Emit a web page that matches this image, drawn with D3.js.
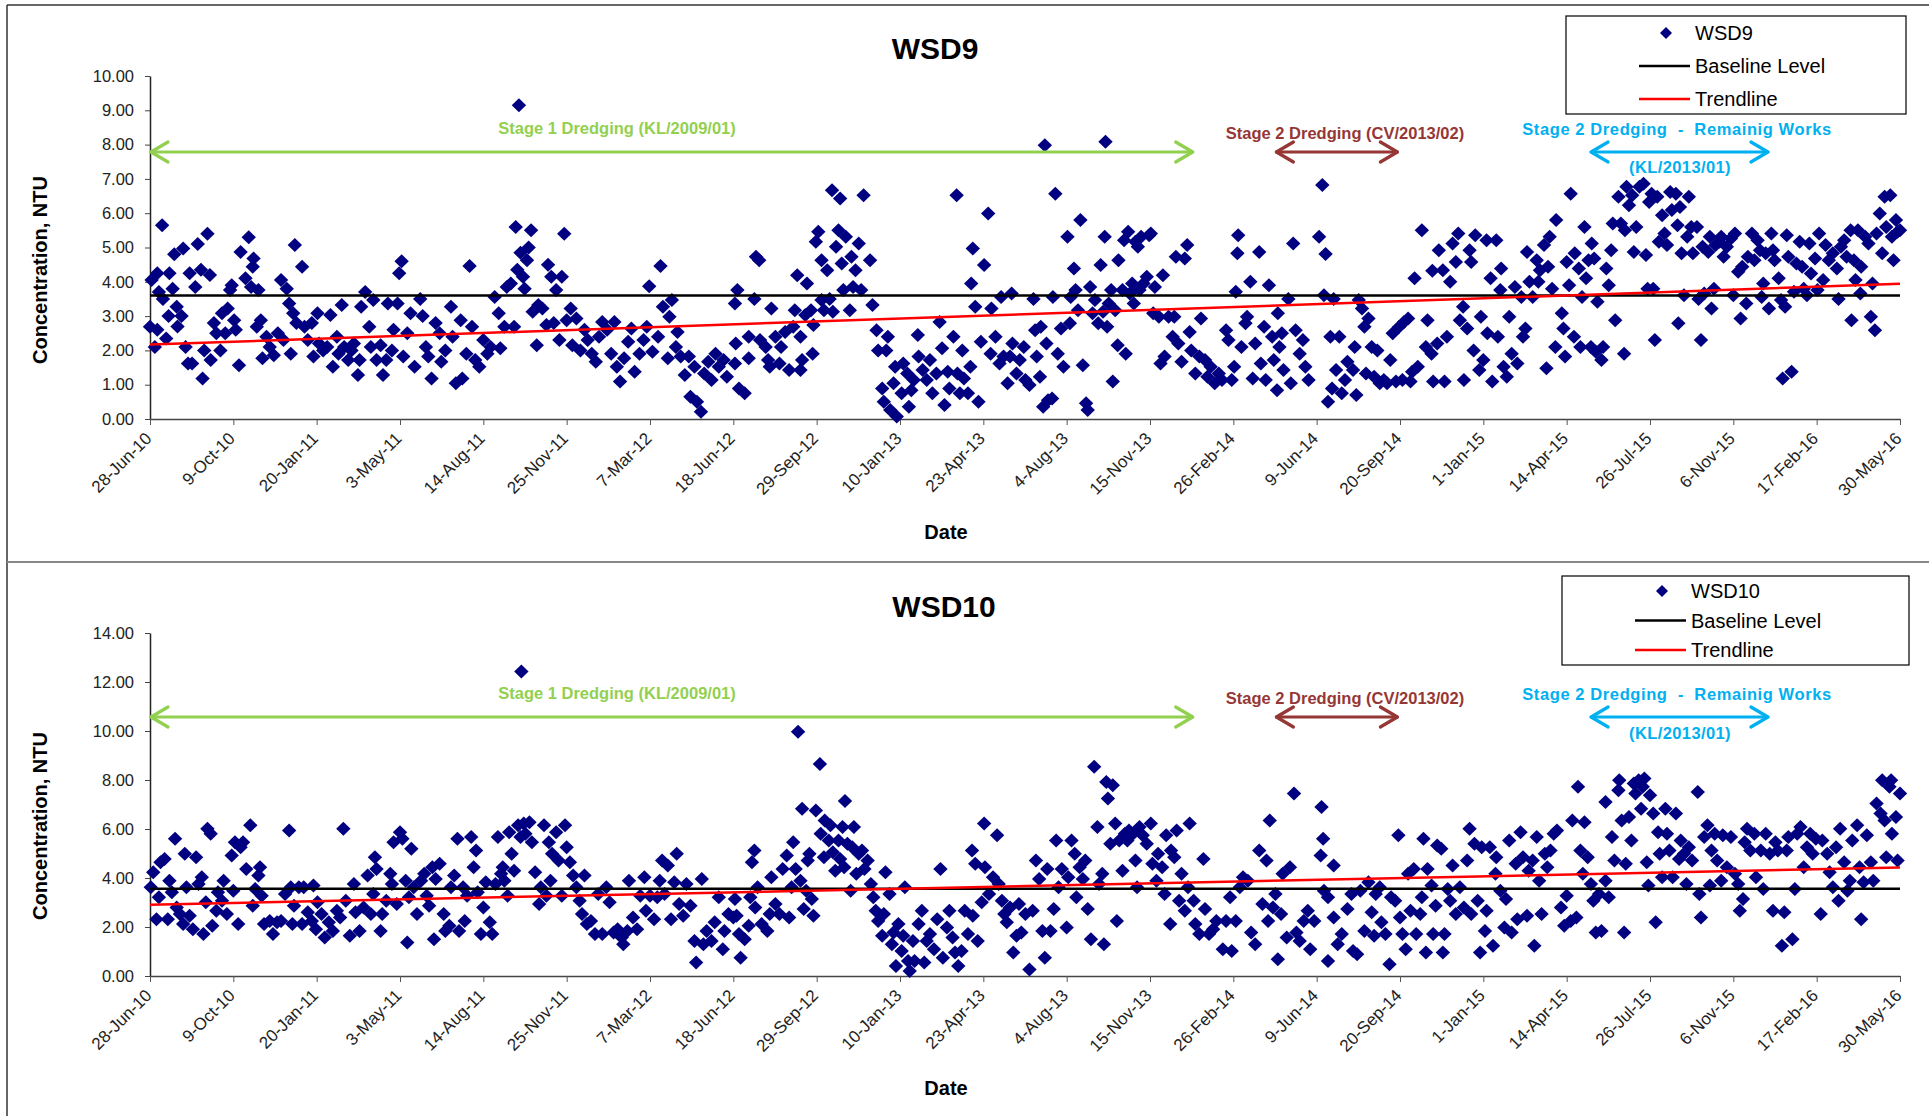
<!DOCTYPE html>
<html>
<head>
<meta charset="utf-8">
<script src="https://cdn.jsdelivr.net/npm/d3@7"></script>
<style>
  body { margin: 0; background: #fff; }
  svg text { font-family: "Liberation Sans", Arial, sans-serif; }
</style>
</head>
<body>
<svg id="chart" width="1929" height="1116"></svg>
<script>
// x tick labels (Excel major unit = 103 days)
const tickLabels = ["28-Jun-10", "9-Oct-10", "20-Jan-11", "3-May-11", "14-Aug-11", "25-Nov-11", "7-Mar-12",
  "18-Jun-12", "29-Sep-12", "10-Jan-13", "23-Apr-13", "4-Aug-13", "15-Nov-13", "26-Feb-14", "9-Jun-14",
  "20-Sep-14", "1-Jan-15", "14-Apr-15", "26-Jul-15", "6-Nov-15", "17-Feb-16", "30-May-16"];

// WSD9 readings: [days after 28-Jun-10, NTU]
const wsd9Part1 = [[0,2.69],[6,2.1],[2,4.05],[9,4.25],[11,3.7],[9,2.6],[15,5.65],[16,3.5],[20,2.35],[23,3.0],[24,4.25],[28,3.8],[30,4.8],[33,3.27],[34,2.7],[39,3.0],[41,4.97],[44,2.1],[47,1.62],[52,1.62],[49,4.25],[56,3.85],[59,5.1],[63,4.35],[65,1.18],[67,2.0],[71,5.4],[74,4.2],[75,1.72],[79,2.8],[82,2.5],[87,2.0],[89,3.08],[93,2.5],[96,3.22],[99,3.76],[101,3.9],[104,2.88],[106,2.6],[110,1.57],[112,4.87],[118,4.1],[122,5.3],[125,3.85],[127,4.44],[128,4.68],[132,2.69],[134,3.76],[137,2.88],[139,1.77],[144,2.4],[148,2.1],[153,1.86],[158,2.5],[162,4.05],[165,2.3],[169,3.8],[172,3.37],[174,1.9],[177,3.08],[179,5.07],[181,2.8],[188,4.44],[191,2.69],[195,2.3],[200,2.8],[202,1.82],[207,3.08],[209,2.2],[214,2.0],[219,2.1],[223,3.03],[226,1.52],[231,2.4],[233,1.9],[237,3.32],[240,2.1],[245,1.72],[249,2.0],[252,2.2],[257,1.28],[259,1.72],[261,3.27],[266,3.7],[271,2.69],[273,2.1],[276,3.47],[280,1.72],[285,2.15],[288,1.28],[292,1.72],[294,3.37],[299,2.0],[301,2.6],[306,3.37],[308,4.25],[311,4.6],[313,1.82],[318,2.5],[322,3.08],[327,1.52],[334,3.5],[337,3.0],[341,2.1],[344,1.82],[348,1.18],[353,2.8],[358,2.5],[360,1.67],[365,2.0],[372,3.27],[374,2.4],[378,1.04],[384,2.88],[386,1.18],[391,1.9],[395,4.46],[398,2.69],[402,1.72],[407,1.52],[412,2.3],[417,1.9],[421,2.1],[426,3.56],[431,3.08],[433,2.06],[438,2.69],[441,3.85],[446,3.95],[450,2.69],[452,5.6],[454,4.35],[456,9.15],[458,4.85],[461,4.15],[463,3.8],[466,4.63],[468,5.0],[471,5.5],[473,3.13],[478,2.15],[480,3.32],[485,3.22],[490,2.74],[492,4.5],[496,4.15],[499,2.8],[502,3.76],[506,2.3],[509,4.15],[512,5.4],[515,2.88],[520,3.22],[522,2.15],[527,2.93],[532,2.0],[537,2.6],[541,2.3],[546,1.9],[551,1.67],[555,2.4],[559,2.83],[565,2.6],[570,1.9],[574,2.83],[577,1.52],[581,1.09],[586,1.77],[591,2.25],[595,2.64],[599,1.38],[605,1.9],[610,2.3],[614,2.69],[617,3.87],[621,1.96],[628,2.4],[631,4.46],[634,3.27],[640,1.77],[642,2.98],[645,3.47],[650,2.1],[652,2.54],[656,1.82],[661,1.28],[666,1.82],[668,0.65],[673,1.52],[676,0.5],[681,0.21],[685,1.33],[690,1.67],[694,1.14],[699,1.9],[703,1.52],[709,1.72],[713,1.23]];
const wsd9Part2 = [[723,3.37],[726,3.76],[724,2.2],[723,1.62],[728,0.89],[735,0.75],[740,2.4],[740,1.77],[747,3.5],[749,4.73],[753,4.63],[754,2.3],[761,2.1],[764,1.72],[766,1.52],[768,3.22],[773,2.4],[778,1.62],[780,2.1],[785,2.54],[790,1.43],[795,2.69],[797,3.17],[800,4.19],[804,2.4],[804,1.43],[806,1.72],[810,3.03],[812,3.95],[817,3.17],[819,1.9],[820,2.74],[826,5.46],[823,5.17],[830,3.47],[833,3.17],[830,4.63],[837,4.34],[840,3.5],[843,6.67],[844,3.13],[848,5.02],[851,5.5],[853,6.43],[855,4.53],[857,3.76],[860,5.31],[865,3.17],[867,4.73],[869,3.85],[872,4.34],[876,5.12],[879,3.76],[882,6.52],[890,4.63],[893,3.32],[898,2.59],[900,2.0],[905,0.89],[907,0.5],[910,2.0],[912,2.4],[915,0.26],[919,1.04],[921,1.52],[923,0.07],[929,0.75],[931,1.62],[936,1.33],[938,0.36],[941,0.84],[944,1.14],[949,2.45],[950,1.82],[955,1.43],[960,1.14],[964,1.72],[967,0.75],[972,1.33],[976,2.83],[979,2.06],[982,0.41],[986,1.38],[988,0.89],[993,2.4],[997,6.52],[998,1.33],[1001,0.75],[1004,2.0],[1006,1.18],[1011,0.75],[1014,1.52],[1015,3.95],[1017,4.97],[1020,3.27],[1024,0.5],[1027,2.25],[1031,4.49],[1036,5.99],[1039,1.9],[1040,3.22],[1045,2.4],[1050,1.62],[1052,3.56],[1055,1.82],[1060,1.04],[1063,1.82],[1065,3.66],[1066,2.2],[1071,1.33],[1075,1.72],[1080,2.1],[1082,1.14],[1087,0.99],[1092,3.5],[1094,2.59],[1096,1.82],[1100,1.23],[1101,2.69],[1104,0.36],[1106,7.98],[1108,2.2],[1110,0.55],[1115,0.6],[1116,3.56],[1119,6.57],[1122,1.9],[1126,2.64],[1129,1.52],[1134,5.31],[1137,2.79],[1138,3.56],[1142,4.39],[1144,3.76],[1147,3.17],[1150,5.8],[1153,1.57],[1157,0.46],[1159,0.26],[1162,3.85],[1165,3.08],[1168,3.47],[1172,2.79],[1175,4.49],[1178,3.13],[1180,5.31],[1181,8.08],[1183,2.69],[1185,3.37],[1188,3.76],[1190,1.09],[1193,3.17],[1196,2.15],[1197,4.63],[1202,3.76],[1204,5.21],[1206,1.9],[1209,5.46],[1211,3.66],[1214,3.95],[1216,3.37],[1218,5.17],[1221,5.02],[1223,3.76],[1225,5.31],[1228,3.95],[1232,4.15],[1235,5.36],[1237,5.41],[1240,3.08],[1242,3.85],[1247,2.98],[1249,1.62],[1252,4.19],[1254,1.82],[1259,2.98],[1264,2.4],[1266,2.98],[1268,4.73],[1271,2.2],[1275,1.67],[1279,4.68],[1282,5.07],[1285,2.54],[1287,2.0],[1292,1.33],[1297,1.82],[1299,2.93],[1304,1.72],[1307,1.23],[1311,1.52],[1316,1.04],[1321,1.33],[1325,1.14],[1330,2.59],[1333,2.3],[1337,1.14],[1340,1.52],[1342,3.71],[1344,4.83],[1345,5.36],[1349,2.1],[1354,2.79],[1356,2.98],[1360,4.0],[1363,1.18],[1366,2.2],[1371,4.87],[1373,1.62],[1377,2.69],[1379,1.14],[1383,3.9],[1387,2.4],[1389,1.72],[1393,0.84],[1394,3.08],[1396,2.1],[1399,2.5],[1401,1.43],[1407,3.5],[1410,1.04],[1413,5.12],[1416,2.59],[1421,1.9],[1425,2.3],[1428,1.52],[1432,1.14]];
const wsd9Part3 = [[1449,6.82],[1445,5.31],[1453,4.81],[1451,3.61],[1456,0.5],[1459,2.4],[1463,3.5],[1461,0.89],[1466,1.43],[1470,2.4],[1473,0.75],[1477,1.14],[1480,1.67],[1487,1.43],[1489,2.1],[1491,0.7],[1494,3.47],[1498,3.22],[1501,2.69],[1506,2.93],[1503,1.33],[1510,2.1],[1513,1.23],[1517,2.0],[1520,1.04],[1525,1.14],[1529,1.04],[1533,1.72],[1536,2.5],[1540,1.09],[1544,2.69],[1548,1.14],[1550,2.83],[1555,2.93],[1558,1.09],[1560,1.38],[1563,4.1],[1567,1.52],[1572,5.5],[1577,2.1],[1579,2.88],[1584,1.9],[1585,4.32],[1586,1.09],[1591,2.2],[1593,4.92],[1598,4.34],[1600,1.09],[1603,2.4],[1607,4.0],[1610,5.12],[1614,4.58],[1617,5.41],[1619,2.88],[1623,3.27],[1624,1.14],[1628,2.64],[1631,4.92],[1633,4.58],[1636,2.0],[1638,5.36],[1643,1.43],[1645,2.98],[1648,1.72],[1652,5.21],[1653,2.5],[1657,4.1],[1659,1.09],[1664,5.21],[1666,2.4],[1669,3.76],[1670,4.39],[1673,1.52],[1677,1.23],[1680,2.98],[1683,1.9],[1687,3.85],[1690,1.62],[1695,3.56],[1697,2.4],[1700,2.64],[1702,4.87],[1705,4.0],[1709,3.56],[1714,4.63],[1716,4.0],[1718,4.34],[1723,5.07],[1726,1.48],[1728,4.44],[1730,5.31],[1733,3.8],[1737,2.1],[1738,5.8],[1745,3.08],[1747,2.64],[1749,1.82],[1751,4.58],[1754,3.9],[1756,6.57],[1760,2.4],[1761,4.83],[1766,4.39],[1768,2.1],[1770,3.56],[1773,5.6],[1775,4.1],[1778,4.63],[1781,2.1],[1782,5.12],[1785,4.68],[1787,1.96],[1789,3.42],[1794,1.72],[1796,2.1],[1800,4.39],[1803,3.9],[1806,4.92],[1808,5.7],[1811,2.88],[1815,6.48],[1818,5.7],[1822,1.9],[1823,5.5],[1825,6.77],[1828,6.23],[1832,6.52],[1834,4.87],[1837,5.6],[1841,6.77],[1846,6.86],[1849,4.78],[1851,3.8],[1853,6.33],[1856,6.57],[1858,3.8],[1860,2.3],[1863,6.48],[1865,5.17],[1869,5.94],[1872,5.41],[1875,5.07],[1879,6.62],[1881,6.09],[1886,6.57],[1888,5.65],[1891,6.18],[1889,2.79],[1893,4.83],[1896,3.61],[1900,5.31],[1902,6.48],[1905,5.6],[1907,4.83],[1912,5.6],[1914,3.5],[1917,2.3],[1919,5.02],[1921,3.66],[1926,4.87],[1928,5.31],[1930,3.22],[1933,3.8],[1935,5.07],[1940,5.17],[1942,5.31],[1945,4.73],[1949,5.02],[1954,5.26],[1957,3.61],[1959,5.41],[1963,4.29],[1966,2.93],[1968,4.44],[1973,3.37],[1975,4.73],[1980,5.41],[1983,4.63],[1987,5.21],[1990,4.92],[1992,3.56],[1994,3.95],[1997,4.83],[2001,3.22],[2004,5.41],[2006,4.92],[2008,4.63],[2013,4.1],[2016,3.47],[2018,1.18],[2021,3.27],[2023,5.36],[2025,4.73],[2029,1.38],[2032,3.71],[2035,4.53],[2039,5.17],[2042,4.44],[2044,3.8],[2048,3.61],[2051,5.12],[2053,4.24],[2058,4.68],[2061,3.76],[2063,5.41],[2068,4.05],[2071,5.07],[2075,4.63],[2080,4.83],[2085,4.39],[2087,3.5],[2090,5.02],[2094,5.21],[2097,4.73],[2102,5.5],[2103,2.88],[2106,4.63],[2108,4.05],[2111,5.5],[2114,3.66],[2115,4.44],[2120,5.31],[2124,5.12],[2127,2.98],[2129,3.95],[2132,2.59],[2134,5.41],[2138,5.99],[2141,4.83],[2144,6.48],[2146,5.6],[2151,6.52],[2153,5.31],[2155,4.63],[2158,5.8],[2160,5.46],[2163,5.5]];

// WSD10 readings: [days after 28-Jun-10, NTU]
const wsd10Part1 = [[1,3.62],[4,4.23],[8,2.32],[11,3.21],[13,4.64],[18,4.78],[22,2.32],[24,3.89],[27,3.42],[31,5.6],[33,2.8],[37,2.53],[41,2.12],[43,4.99],[45,3.62],[49,2.46],[53,1.91],[57,4.85],[60,3.76],[64,4.03],[66,1.71],[69,3.01],[71,6.01],[75,5.81],[77,2.05],[82,2.66],[84,3.42],[89,3.07],[91,3.89],[95,2.53],[101,4.92],[103,3.48],[105,5.46],[109,2.12],[112,5.26],[115,5.46],[119,4.37],[124,6.15],[127,2.87],[130,3.55],[134,4.1],[136,4.44],[138,3.28],[141,2.12],[148,2.25],[152,1.71],[157,2.19],[162,2.25],[167,3.35],[172,5.94],[174,3.62],[176,2.12],[178,2.87],[184,3.62],[188,2.12],[190,3.62],[195,2.6],[200,2.25],[202,3.69],[205,1.91],[207,3.01],[212,2.53],[216,1.57],[221,2.19],[226,1.84],[231,2.66],[235,2.39],[239,6.01],[242,3.07],[247,1.64],[252,3.76],[254,2.6],[259,1.84],[264,2.8],[269,4.1],[273,2.53],[276,3.35],[278,4.85],[280,4.37],[285,1.84],[287,2.53],[292,3.07],[297,4.17],[299,3.76],[301,5.46],[305,2.94],[309,5.87],[312,5.6],[316,3.89],[318,1.37],[320,3.21],[323,5.19],[326,3.62],[330,2.53],[335,3.89],[339,4.17],[342,3.28],[345,2.87],[349,4.44],[351,1.5],[353,3.96],[358,4.58],[363,2.53],[365,1.84],[370,2.05],[372,3.62],[376,4.1],[380,5.6],[382,1.84],[387,3.62],[389,2.25],[392,3.28],[397,5.67],[400,4.44],[403,5.12],[405,3.42],[409,1.71],[412,2.8],[415,3.83],[420,2.19],[423,1.71],[427,3.76],[430,5.67],[434,4.17],[436,4.44],[438,3.89],[442,3.28],[444,5.87],[447,4.99],[450,4.3],[455,6.15],[458,5.67],[459,12.43],[462,6.22],[464,5.81],[469,6.28],[472,5.46],[476,4.23],[481,2.94],[483,3.62],[487,6.15],[490,3.28],[493,5.46],[495,3.89],[497,4.99],[502,5.87],[505,4.71],[509,3.28],[513,6.15],[515,5.26],[519,4.64],[523,4.1],[527,3.62],[531,3.07],[534,2.53],[537,4.1],[540,2.12],[545,2.25],[550,1.71],[554,3.35],[559,1.71],[564,3.62],[568,3.01],[573,1.78],[578,1.91],[583,1.57],[585,1.3],[590,1.84],[592,3.89],[597,2.39],[602,1.91],[606,3.28],[611,4.03],[613,2.66],[618,3.28],[623,2.32],[627,3.21],[630,3.89],[633,4.71],[636,3.35],[640,4.51],[644,2.32],[648,3.83],[651,4.99],[654,2.94],[659,2.46],[663,3.76],[668,2.87],[673,1.43],[675,0.55],[682,3.96],[684,1.3],[688,1.84],[694,1.43],[698,2.19],[703,3.21],[708,1.09],[710,1.84],[715,2.53]];
const wsd10Part2 = [[721,2.39],[723,3.14],[725,2.46],[728,1.71],[730,0.75],[735,1.5],[740,2.05],[742,3.21],[744,4.64],[747,5.12],[748,2.8],[751,3.62],[756,2.12],[763,1.84],[766,2.53],[768,4.03],[773,2.94],[778,2.53],[782,4.37],[787,4.92],[790,2.39],[793,3.62],[795,5.46],[798,4.37],[801,9.97],[804,3.89],[806,6.83],[808,2.73],[811,3.48],[813,4.71],[815,4.99],[818,3.14],[820,2.46],[823,6.76],[828,8.65],[829,5.81],[833,4.85],[834,6.35],[839,5.53],[841,6.15],[844,5.05],[847,4.3],[851,5.53],[853,4.78],[856,6.08],[858,4.44],[859,7.14],[862,5.4],[866,3.48],[868,5.26],[870,6.08],[873,4.17],[876,4.99],[880,5.12],[883,4.37],[887,4.71],[891,3.76],[894,3.21],[897,2.66],[900,2.25],[905,1.64],[907,2.53],[909,4.23],[914,3.35],[917,1.3],[919,1.78],[922,0.41],[925,2.12],[929,1.02],[931,1.64],[933,3.62],[937,0.61],[939,0.2],[943,1.43],[945,0.61],[950,2.12],[954,2.66],[957,0.55],[960,1.43],[964,1.71],[969,1.09],[973,2.32],[977,4.37],[980,0.75],[985,1.98],[988,2.66],[992,1.57],[995,0.96],[999,0.41],[1003,1.02],[1007,2.66],[1011,1.71],[1016,5.12],[1017,2.46],[1020,4.58],[1023,1.43],[1028,3.01],[1031,6.22],[1032,4.44],[1037,3.35],[1042,4.03],[1047,5.74],[1049,3.76],[1053,3.07],[1056,2.53],[1059,2.19],[1063,2.8],[1067,0.96],[1071,1.64],[1074,2.94],[1077,1.78],[1082,2.53],[1087,0.27],[1091,2.66],[1095,4.71],[1099,3.96],[1103,1.84],[1106,0.75],[1109,4.37],[1113,1.84],[1117,2.73],[1120,5.53],[1123,3.62],[1127,4.37],[1133,1.98],[1135,4.03],[1139,5.53],[1143,4.99],[1145,3.21],[1149,4.44],[1153,3.96],[1156,4.71],[1159,2.73],[1163,1.5],[1167,8.54],[1171,6.08],[1173,3.76],[1177,4.17],[1179,1.3],[1182,7.92],[1184,7.24],[1187,5.4],[1190,7.79],[1193,6.22],[1195,2.25],[1198,5.53],[1202,4.3],[1205,5.81],[1208,5.53],[1210,5.94],[1215,5.81],[1218,4.71],[1220,3.62],[1223,6.08],[1227,5.74],[1232,5.4],[1237,6.22],[1239,4.58],[1244,3.89],[1246,4.99],[1251,4.44],[1254,3.35],[1256,5.74],[1261,2.12],[1262,5.12],[1266,4.85],[1269,5.94],[1272,3.07],[1275,4.17],[1279,2.66],[1283,3.62],[1285,6.22],[1290,3.07],[1292,2.12],[1297,1.71],[1302,4.78],[1304,2.73],[1309,1.71],[1314,1.91],[1318,2.25],[1326,1.09],[1330,2.25],[1335,3.21],[1337,1.02],[1342,2.25],[1347,3.62],[1351,4.03],[1357,3.89],[1361,1.78],[1366,1.3],[1371,5.12],[1375,2.94],[1380,4.71],[1382,2.25],[1384,6.35],[1388,2.8],[1391,3.35],[1394,0.68],[1398,2.53],[1400,4.17],[1405,1.57],[1409,4.44],[1414,7.45],[1417,1.78],[1421,1.43],[1426,2.25],[1431,2.66],[1434,1.09],[1439,2.25]];
const wsd10Part3 = [[1448,6.9],[1450,5.6],[1447,4.92],[1463,4.51],[1451,3.48],[1456,3.21],[1456,0.61],[1463,2.39],[1468,1.3],[1473,1.71],[1480,2.73],[1485,3.35],[1487,1.02],[1492,0.89],[1496,3.48],[1501,1.84],[1506,3.83],[1510,2.6],[1513,1.64],[1515,3.35],[1520,3.62],[1522,2.19],[1527,1.71],[1532,0.48],[1534,3.21],[1539,3.07],[1543,5.74],[1545,2.39],[1548,1.71],[1552,1.09],[1555,4.17],[1558,2.66],[1562,4.37],[1565,1.71],[1570,2.53],[1572,3.21],[1574,5.6],[1577,0.96],[1579,4.37],[1584,3.69],[1586,1.71],[1589,2.87],[1591,5.33],[1596,5.19],[1598,0.96],[1600,1.71],[1604,3.55],[1607,3.07],[1610,4.51],[1614,2.53],[1619,3.62],[1624,2.8],[1628,4.71],[1631,6.01],[1633,2.53],[1637,5.4],[1641,3.07],[1644,0.96],[1646,5.26],[1650,1.84],[1652,2.66],[1656,5.26],[1660,1.23],[1663,4.17],[1664,4.85],[1669,3.48],[1674,1.98],[1676,3.14],[1680,5.53],[1683,1.78],[1688,4.58],[1690,2.32],[1694,5.87],[1697,4.85],[1702,2.46],[1704,4.3],[1709,4.71],[1711,1.23],[1714,5.67],[1717,3.89],[1720,2.53],[1724,4.99],[1727,4.44],[1731,5.12],[1735,5.81],[1739,5.94],[1744,2.8],[1748,2.05],[1751,3.28],[1756,2.25],[1758,6.35],[1763,2.39],[1765,7.72],[1768,5.12],[1771,4.17],[1773,6.28],[1777,4.85],[1781,3.76],[1784,3.07],[1787,1.78],[1791,3.35],[1794,1.84],[1799,3.89],[1799,7.1],[1803,3.21],[1807,5.67],[1810,4.71],[1815,7.58],[1816,7.99],[1819,6.35],[1822,1.78],[1824,4.58],[1828,6.49],[1831,5.53],[1834,7.86],[1836,7.45],[1840,7.99],[1843,6.83],[1845,7.72],[1847,8.06],[1850,4.64],[1852,3.69],[1854,7.38],[1858,6.63],[1861,2.19],[1864,5.87],[1866,4.99],[1869,4.03],[1873,6.83],[1875,5.81],[1878,5.12],[1882,4.03],[1886,6.63],[1890,4.78],[1892,5.53],[1896,4.99],[1899,3.76],[1902,5.26],[1906,4.71],[1913,7.51],[1915,3.35],[1917,2.39],[1921,5.67],[1925,6.15],[1928,3.69],[1930,5.12],[1934,5.81],[1937,4.71],[1942,3.89],[1944,5.74],[1949,4.44],[1954,5.67],[1959,4.17],[1963,3.76],[1965,2.66],[1969,3.14],[1971,5.46],[1974,6.01],[1978,5.12],[1983,5.81],[1985,4.03],[1991,5.12],[1994,3.55],[1997,5.81],[2002,4.99],[2006,2.66],[2009,5.46],[2012,5.12],[2017,1.23],[2020,2.6],[2023,5.12],[2025,5.67],[2030,1.5],[2033,3.55],[2036,5.81],[2040,6.08],[2044,4.44],[2048,5.26],[2052,5.81],[2055,4.99],[2059,5.6],[2065,2.53],[2067,5.53],[2073,4.99],[2076,4.23],[2080,3.62],[2084,5.26],[2087,3.07],[2089,6.01],[2094,4.64],[2098,3.48],[2101,3.89],[2104,5.53],[2110,6.15],[2113,4.44],[2115,2.32],[2118,3.83],[2122,5.74],[2127,4.64],[2130,3.89],[2134,7.04],[2139,6.63],[2141,7.99],[2144,6.35],[2146,4.85],[2150,7.72],[2152,7.99],[2153,5.81],[2158,6.49],[2160,4.71],[2163,7.45]];

const baselineLevels = [3.6, 3.56];          // WSD9, WSD10
const trendWsd9 = [2.17, 3.94];              // value at first / last tick
const trendWsd10 = [2.91, 4.43];

// dredging periods, in days after 28-Jun-10
const stageNames = ["Stage 1 Dredging (KL/2009/01)", "Stage 2 Dredging (CV/2013/02)", "Stage 2 Dredging  -  Remainig Works"];
const stageStart = [0, 1391, 1780];
const stageEnd = [1290, 1543, 2001];
const stageColors = ["#92d050", "#953735", "#00b0f0"];

const svg = d3.select("#chart");
const parseTick = d3.utcParse("%d-%b-%y");
const tickDates = tickLabels.map(parseTick);
const day0 = tickDates[0];
const toDate = d => d3.utcDay.offset(day0, d);

const x = d3.scaleUtc()
  .domain([tickDates[0], tickDates[tickDates.length - 1]])
  .range([150, 1900]);

// frame
svg.append("line").attr("x1", 7).attr("y1", 5).attr("x2", 1929).attr("y2", 5)
  .attr("stroke", "#333").attr("stroke-width", 1.5);
svg.append("line").attr("x1", 7).attr("y1", 5).attr("x2", 7).attr("y2", 1116)
  .attr("stroke", "#333").attr("stroke-width", 1.5);
svg.append("line").attr("x1", 7).attr("y1", 562).attr("x2", 1929).attr("y2", 562)
  .attr("stroke", "#888").attr("stroke-width", 2);

const diamond = "M0,-7L7.2,0L0,7L-7.2,0Z";

const panels = [
  { name: "WSD9", data: wsd9Part1.concat(wsd9Part2, wsd9Part3), yMax: 10, yStep: 1,
    baseline: baselineLevels[0], trend: trendWsd9, top: 76, bottom: 419,
    titleX: 935, titleY: 59, dateY: 539, labelY: 270,
    legend: { x: 1566, y: 16, w: 340, h: 98, first: 33, gap: 33 },
    arrowY: 152, textY: [134, 139, 135], klY: 173 },
  { name: "WSD10", data: wsd10Part1.concat(wsd10Part2, wsd10Part3), yMax: 14, yStep: 2,
    baseline: baselineLevels[1], trend: trendWsd10, top: 633, bottom: 976,
    titleX: 944, titleY: 617, dateY: 1095, labelY: 826,
    legend: { x: 1562, y: 576, w: 347, h: 89, first: 591, gap: 29.5 },
    arrowY: 717, textY: [699, 704, 700], klY: 739 }
];

panels.forEach(p => {
  const g = svg.append("g");
  const y = d3.scaleLinear().domain([0, p.yMax]).range([p.bottom, p.top]);

  // y axis
  const yAxis = g.append("g")
    .attr("transform", `translate(${x.range()[0]},0)`)
    .call(d3.axisLeft(y)
      .tickValues(d3.range(0, p.yMax + 0.001, p.yStep))
      .tickFormat(d3.format(".2f"))
      .tickSize(5).tickSizeOuter(0).tickPadding(11));
  yAxis.selectAll("text").style("font-size", "16.5px").attr("fill", "#222");
  yAxis.selectAll("line").attr("stroke", "#444");
  yAxis.select(".domain").attr("stroke", "#222").attr("stroke-width", 1.5);

  // x axis
  const xAxis = g.append("g")
    .attr("transform", `translate(0,${p.bottom})`)
    .call(d3.axisBottom(x)
      .tickValues(tickDates)
      .tickFormat((d, i) => tickLabels[i])
      .tickSize(6).tickSizeOuter(0));
  xAxis.selectAll("text")
    .style("font-size", "17px")
    .attr("fill", "#222")
    .attr("text-anchor", "end")
    .attr("x", -13).attr("y", 16).attr("dy", 0)
    .attr("transform", "rotate(-45)");
  xAxis.selectAll("line").attr("stroke", "#555");
  xAxis.select(".domain").attr("stroke", "#444").attr("stroke-width", 1.5);

  // scatter
  g.append("g").selectAll("path")
    .data(p.data)
    .join("path")
    .attr("d", diamond)
    .attr("transform", d => `translate(${x(toDate(d[0]))},${y(d[1])})`)
    .attr("fill", "#000080");

  // baseline level
  g.append("line")
    .attr("x1", x.range()[0]).attr("x2", x.range()[1])
    .attr("y1", y(p.baseline)).attr("y2", y(p.baseline))
    .attr("stroke", "#000").attr("stroke-width", 2.5);

  // trendline
  g.append("line")
    .attr("x1", x(tickDates[0])).attr("x2", x(tickDates[tickDates.length - 1]))
    .attr("y1", y(p.trend[0])).attr("y2", y(p.trend[1]))
    .attr("stroke", "#ff0000").attr("stroke-width", 2.5);

  // stage arrows
  stageNames.forEach((name, i) => {
    const x1 = x(toDate(stageStart[i])), x2 = x(toDate(stageEnd[i])), ay = p.arrowY;
    const col = stageColors[i];
    const a = g.append("g").attr("stroke", col).attr("stroke-width", 3.2).attr("fill", "none")
      .attr("stroke-linecap", "round").attr("stroke-linejoin", "round");
    a.append("line").attr("x1", x1 + 1).attr("x2", x2 - 1).attr("y1", ay).attr("y2", ay);
    a.append("path").attr("d", `M${x1 + 18},${ay - 10}L${x1 + 1},${ay}L${x1 + 18},${ay + 10}`);
    a.append("path").attr("d", `M${x2 - 18},${ay - 10}L${x2 - 1},${ay}L${x2 - 18},${ay + 10}`);
  });
  const textX = [617, 1345, 1677];
  stageNames.forEach((name, i) => {
    g.append("text")
      .attr("x", textX[i]).attr("y", p.textY[i])
      .attr("text-anchor", "middle")
      .attr("fill", stageColors[i])
      .style("font-size", "16.5px").style("font-weight", "bold")
      .style("white-space", "pre")
      .style("letter-spacing", i === 2 ? "0.6px" : "0px")
      .text(name);
  });
  g.append("text")
    .attr("x", 1680).attr("y", p.klY)
    .attr("text-anchor", "middle")
    .attr("fill", stageColors[2])
    .style("font-size", "16.5px").style("font-weight", "bold")
    .style("letter-spacing", "0.4px")
    .text("(KL/2013/01)");

  // titles
  g.append("text")
    .attr("x", p.titleX).attr("y", p.titleY)
    .attr("text-anchor", "middle")
    .style("font-size", "30px").style("font-weight", "bold")
    .text(p.name);
  g.append("text")
    .attr("x", 946).attr("y", p.dateY)
    .attr("text-anchor", "middle")
    .style("font-size", "20px").style("font-weight", "bold")
    .text("Date");
  g.append("text")
    .attr("transform", `translate(47,${p.labelY}) rotate(-90)`)
    .attr("text-anchor", "middle")
    .style("font-size", "20px").style("font-weight", "bold")
    .text("Concentration, NTU");

  // legend
  const L = p.legend;
  const lg = g.append("g");
  lg.append("rect")
    .attr("x", L.x).attr("y", L.y).attr("width", L.w).attr("height", L.h)
    .attr("fill", "#fff").attr("stroke", "#000").attr("stroke-width", 1.2);
  const items = [p.name, "Baseline Level", "Trendline"];
  items.forEach((label, i) => {
    const cy = L.first + i * L.gap;
    if (i === 0) {
      lg.append("path").attr("d", "M0,-6L6,0L0,6L-6,0Z")
        .attr("transform", `translate(${L.x + 100},${cy})`).attr("fill", "#000080");
    } else {
      lg.append("line")
        .attr("x1", L.x + 73).attr("x2", L.x + 124).attr("y1", cy).attr("y2", cy)
        .attr("stroke", i === 1 ? "#000" : "#ff0000").attr("stroke-width", 2.5);
    }
    lg.append("text")
      .attr("x", L.x + 129).attr("y", cy + 7)
      .style("font-size", "20px")
      .text(label);
  });
});
</script>
</body>
</html>
